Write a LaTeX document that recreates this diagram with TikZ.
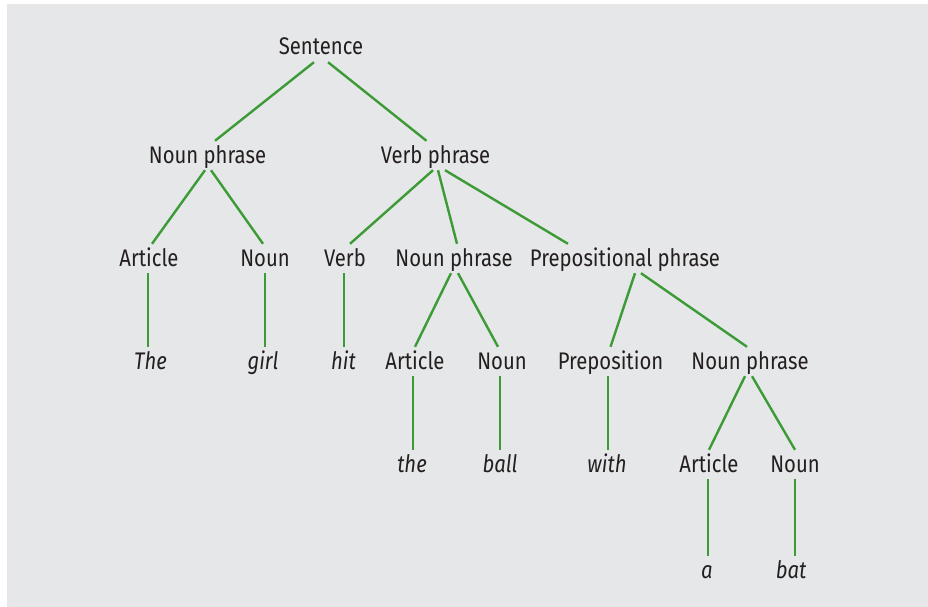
\documentclass[tikz,border=0pt]{standalone}
\usepackage{fontspec}
\setmainfont[FakeStretch=0.845]{Fira Sans}
\definecolor{bgpanel}{RGB}{230,231,232}
\definecolor{treegreen}{RGB}{60,155,55}
\definecolor{ink}{RGB}{35,31,32}
\begin{document}
\begin{tikzpicture}[x=1pt,y=-1pt,
  lbl/.style={anchor=base, inner xsep=0pt, inner ysep=0pt,
    text height=22pt, text depth=7pt, text=ink,
    font=\fontsize{24}{28}\selectfont},
  leaf/.style={lbl, font=\fontsize{24}{28}\selectfont\itshape},
  branch/.style={draw=treegreen, line width=2.4pt}]
\useasboundingbox (0,0) rectangle (928,607);
\fill[bgpanel] (7,4) rectangle (928,607);

% level 0 and 1
\node[lbl] (s)   at (321,55)    {Sentence};
\node[lbl] (np1) at (207.5,163) {Noun phrase};
\node[lbl] (vp)  at (435.5,163) {Verb phrase};
% level 2
\node[lbl] (art1) at (149,266) {Article};
\node[lbl] (n1)   at (265,266) {Noun};
\node[lbl] (v)    at (345,266) {Verb};
\node[lbl] (np2)  at (454,266) {Noun phrase};
\node[lbl] (pp)   at (625,266) {Prepositional phrase};
% level 3
\node[leaf] (wthe)  at (150.5,369) {The};
\node[leaf] (wgirl) at (263,369)   {girl};
\node[leaf] (whit)  at (343.5,369) {hit};
\node[lbl] (art2)   at (415,369)   {Article};
\node[lbl] (n2)     at (502,369)   {Noun};
\node[lbl] (prep)   at (610.5,369) {Preposition};
\node[lbl] (np3)    at (750,369)   {Noun phrase};
% level 4
\node[leaf] (wthe2) at (412,472) {the};
\node[leaf] (wball) at (500,472) {ball};
\node[leaf] (wwith) at (607,472) {with};
\node[lbl] (art3)   at (709,472) {Article};
\node[lbl] (n3)     at (795,472) {Noun};
% level 5
\node[leaf] (wa)   at (707,578) {a};
\node[leaf] (wbat) at (791,578) {bat};

% branches
\draw[branch] ([xshift=-7pt]s.south) -- ([xshift=7.5pt]np1.north);
\draw[branch] ([xshift=7pt]s.south) -- ([xshift=-9pt]vp.north);

\draw[branch] ([xshift=-2.5pt]np1.south) -- ([xshift=3pt]art1.north);
\draw[branch] ([xshift=3.5pt]np1.south) -- ([xshift=-2pt]n1.north);

\draw[branch] ([xshift=-2.5pt]vp.south) -- ([xshift=5pt]v.north);
\draw[branch] ([xshift=2.5pt]vp.south) -- ([xshift=3pt]np2.north);
\draw[branch] ([xshift=9.5pt]vp.south) -- ([xshift=-57pt]pp.north);

\draw[branch] ([xshift=-3pt]np2.south) -- (art2.north);
\draw[branch] ([xshift=4pt]np2.south) -- ([xshift=-4pt]n2.north);

\draw[branch] ([xshift=10pt]pp.south) -- (prep.north);
\draw[branch] ([xshift=16pt]pp.south) -- ([xshift=-3pt]np3.north);

\draw[branch] ([xshift=-5pt]np3.south) -- (art3.north);
\draw[branch] ([xshift=2pt]np3.south) -- (n3.north);

% vertical branches down to the words
\draw[branch] ([xshift=-1pt]art1.south) -- ([xshift=-1pt]art1.south |- wthe.north);
\draw[branch] (n1.south) -- (n1.south |- wgirl.north);
\draw[branch] ([xshift=-1pt]v.south) -- ([xshift=-1pt]v.south |- whit.north);
\draw[branch] ([xshift=-2pt]art2.south) -- ([xshift=-2pt]art2.south |- wthe2.north);
\draw[branch] ([xshift=-2pt]n2.south) -- ([xshift=-2pt]n2.south |- wball.north);
\draw[branch] ([xshift=-2.5pt]prep.south) -- ([xshift=-2.5pt]prep.south |- wwith.north);
\draw[branch] ([xshift=-1pt]art3.south) -- ([xshift=-1pt]art3.south |- wa.north);
\draw[branch] (n3.south) -- (n3.south |- wbat.north);
\end{tikzpicture}
\end{document}
